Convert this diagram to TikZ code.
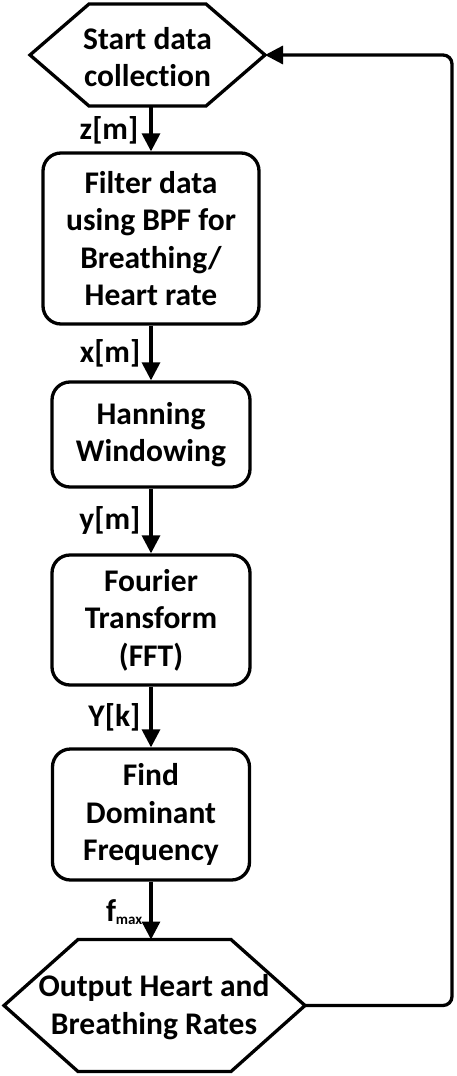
\documentclass[tikz,border=0pt]{standalone}
\usepackage{fontspec}
\setmainfont{Carlito}[Ligatures={NoCommon}]
\usetikzlibrary{arrows.meta}
\begin{document}
\begin{tikzpicture}[x=1pt,y=-1pt,
  line width=3.3pt,
  font=\fontsize{31.5}{37.5}\selectfont\bfseries,
  box/.style={draw, rounded corners=18pt, align=center, inner sep=0pt},
  txt/.style={align=center, inner sep=0pt},
  arr/.style={-{Triangle[length=18pt,width=18pt]}},
  lbl/.style={anchor=east, inner sep=0pt}
]
\useasboundingbox (0,0) rectangle (457,1076);
% start hexagon
\coordinate (startW) at (30,55);
\coordinate (startE) at (265,55);
\coordinate (startS) at (151,106);
\draw[line join=miter] (startW) -- (89,4) -- (206,4) -- (startE) -- (206,106) -- (89,106) -- cycle;
\node[txt] (start) at (147.5,57) {Start data\\collection};
% output hexagon
\coordinate (outW) at (4,1005.5);
\coordinate (outE) at (305,1005.5);
\coordinate (outN) at (151,939.5);
\draw[line join=miter] (outW) -- (78,939.5) -- (231,939.5) -- (outE) -- (231,1071.5) -- (78,1071.5) -- cycle;
\node[txt] (out) at (154,1007) {Output Heart and\\Breathing Rates};
% boxes
\node[box, minimum width=216pt, minimum height=171pt] (filt) at (151,238.5) {Filter data\\using BPF for\\Breathing/\\Heart rate};
\node[box, minimum width=198pt, minimum height=105pt] (hann) at (151,434.5) {Hanning\\Windowing};
\node[box, minimum width=198pt, minimum height=130pt] (fft) at (151,620) {Fourier\\Transform\\(FFT)};
\node[box, minimum width=197pt, minimum height=131pt] (dom) at (151,814.5) {Find\\Dominant\\Frequency};
\coordinate (cr) at (452,55);
\draw[arr] (startS) -- (filt.north);
\draw[arr] (filt.south) -- (hann.north);
\draw[arr] (hann.south) -- (fft.north);
\draw[arr] (fft.south) -- (dom.north);
\draw[arr] (dom.south) -- (outN);
\draw[arr, rounded corners=9pt] (outE) -| (cr) -- (startE);
\node[lbl] (lz) at (140,130) {z[m]};
\node[lbl] (lx) at (142,353) {x[m]};
\node[lbl] (ly) at (142,520) {y[m]};
\node[lbl] (lY) at (142,717) {Y[k]};
\node[lbl] (lf) at (144,912) {f\raisebox{-3pt}{\fontsize{15}{15}\selectfont max}};
\end{tikzpicture}
\end{document}
